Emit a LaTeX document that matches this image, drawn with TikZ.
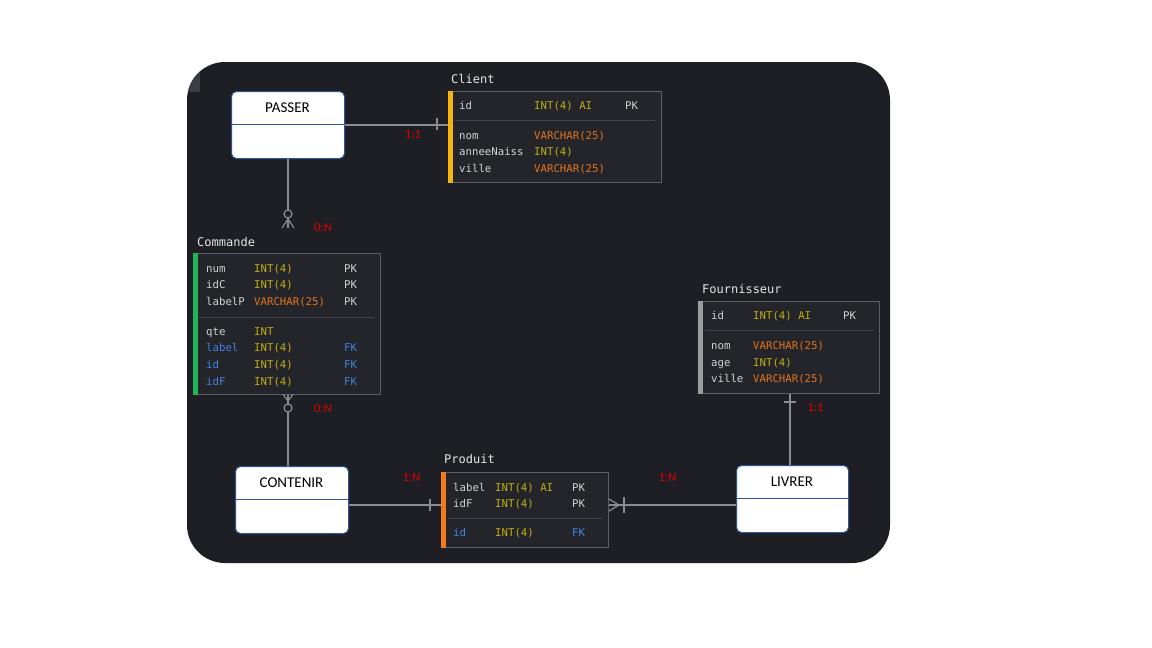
\documentclass[tikz,border=0pt]{standalone}
\usepackage{fontspec}
\setmainfont{Carlito}
\setmonofont{DejaVu Sans Mono}
\usetikzlibrary{calc}

\definecolor{canvas}{HTML}{1E1F24}
\definecolor{patch}{HTML}{3A3D45}
\definecolor{panel}{HTML}{23252B}
\definecolor{frame}{HTML}{5C5F66}
\definecolor{rule}{HTML}{42454C}
\definecolor{wire}{HTML}{8A8D93}
\definecolor{txt}{HTML}{D2D2D2}
\definecolor{title}{HTML}{E6E6E6}
\definecolor{typint}{HTML}{C4AE12}
\definecolor{typvar}{HTML}{E5731C}
\definecolor{fkblue}{HTML}{4282E6}
\definecolor{accY}{HTML}{F5B50E}
\definecolor{accG}{HTML}{22B45A}
\definecolor{accO}{HTML}{F47A1C}
\definecolor{accS}{HTML}{9C9C9C}
\definecolor{entborder}{HTML}{2F5597}
\definecolor{card}{HTML}{E00000}

% one row of a table: prefix, y of text centre, name colour, name, type colour, type, key colour, key
\newcommand\erow[8]{%
  \node[fld,text=#3] (#1-n) at (\xa,#2+4.5) {#4};
  \node[fld,text=#5] (#1-t) at (\xb,#2+4.5) {#6};
  \if\relax\detokenize{#8}\relax\else
    \node[fld,text=#7] (#1-k) at (\xc,#2+4.5) {#8};
  \fi}

\tikzset{
  tablebox/.style={draw=frame, fill=panel, line width=1pt, inner sep=0pt, anchor=north west},
  fld/.style={font=\ttfamily\fontsize{10.7}{12}\selectfont, inner sep=0pt, anchor=base west},
  tabtitle/.style={font=\ttfamily\fontsize{12}{14}\selectfont, text=title, inner sep=0pt, anchor=base west},
  entity/.style={draw=entborder, fill=white, line width=1pt, rounded corners=5pt, inner sep=0pt, anchor=north west},
  enttext/.style={font=\fontsize{15}{17}\selectfont, text=black, inner sep=0pt},
  cardtext/.style={font=\fontsize{12.5}{14}\selectfont, text=card, inner sep=0pt},
  wireline/.style={draw=wire, line width=1.2pt},
  sepline/.style={draw=rule, line width=1pt},
}

\begin{document}
\begin{tikzpicture}[x=1pt,y=-1pt]
\useasboundingbox (0,0) rectangle (1152,648);
\fill[white] (0,0) rectangle (1152,648);

% dark canvas
\fill[canvas, rounded corners=38pt] (187,62) rectangle (890,563);
\begin{scope}
  \clip[rounded corners=38pt] (187,62) rectangle (890,563);
  \fill[patch] (188,62) rectangle (200,92);
\end{scope}

% connectors (drawn first, boxes sit on top)
\coordinate (cmdfoot) at (288,228);
\coordinate (lnk) at (0,505);
\coordinate (vx) at (790,0);

% ---------- tables ----------
% Client
\node[tabtitle] (client-title) at (451,83) {Client};
\node[tablebox, minimum width=213pt, minimum height=91pt] (client) at (448,91) {};
\fill[accY] (client.north west) rectangle ([xshift=5pt]client.south west);
\draw[sepline] (455,120) -- (655,120);
\def\xa{459}\def\xb{534}\def\xc{625}
\erow{cl1}{105}{txt}{id}{typint}{INT(4) AI}{txt}{PK}
\erow{cl2}{135}{txt}{nom}{typvar}{VARCHAR(25)}{txt}{}
\erow{cl3}{151}{txt}{anneeNaiss}{typint}{INT(4)}{txt}{}
\erow{cl4}{168}{txt}{ville}{typvar}{VARCHAR(25)}{txt}{}

% Commande
\node[tabtitle] (commande-title) at (197,246) {Commande};
\node[tablebox, minimum width=187pt, minimum height=141pt] (commande) at (193,253) {};
\fill[accG] (commande.north west) rectangle ([xshift=5pt]commande.south west);
\draw[sepline] (199,317) -- (374,317);
\def\xa{206}\def\xb{254}\def\xc{344}
\erow{co1}{268}{txt}{num}{typint}{INT(4)}{txt}{PK}
\erow{co2}{284}{txt}{idC}{typint}{INT(4)}{txt}{PK}
\erow{co3}{301}{txt}{labelP}{typvar}{VARCHAR(25)}{txt}{PK}
\erow{co4}{331}{txt}{qte}{typint}{INT}{txt}{}
\erow{co5}{347}{fkblue}{label}{typint}{INT(4)}{fkblue}{FK}
\erow{co6}{364}{fkblue}{id}{typint}{INT(4)}{fkblue}{FK}
\erow{co7}{381}{fkblue}{idF}{typint}{INT(4)}{fkblue}{FK}

% Fournisseur
\node[tabtitle] (fournisseur-title) at (702,293) {Fournisseur};
\node[tablebox, minimum width=181pt, minimum height=92pt] (fournisseur) at (698,301) {};
\fill[accS] (fournisseur.north west) rectangle ([xshift=5pt]fournisseur.south west);
\draw[sepline] (705,330) -- (873,330);
\def\xa{711}\def\xb{753}\def\xc{843}
\erow{fo1}{315}{txt}{id}{typint}{INT(4) AI}{txt}{PK}
\erow{fo2}{345}{txt}{nom}{typvar}{VARCHAR(25)}{txt}{}
\erow{fo3}{362}{txt}{age}{typint}{INT(4)}{txt}{}
\erow{fo4}{378}{txt}{ville}{typvar}{VARCHAR(25)}{txt}{}

% Produit
\node[tabtitle] (produit-title) at (444,463) {Produit};
\node[tablebox, minimum width=167pt, minimum height=75pt] (produit) at (441,472) {};
\fill[accO] (produit.north west) rectangle ([xshift=5pt]produit.south west);
\draw[sepline] (448,518) -- (602,518);
\def\xa{453}\def\xb{495}\def\xc{572}
\erow{pr1}{487}{txt}{label}{typint}{INT(4) AI}{txt}{PK}
\erow{pr2}{503}{txt}{idF}{typint}{INT(4)}{txt}{PK}
\erow{pr3}{532}{fkblue}{id}{typint}{INT(4)}{fkblue}{FK}

% ---------- relationship boxes ----------
\node[entity, minimum width=113pt, minimum height=67pt] (passer) at (231,91) {};
\draw[entborder, line width=1pt] (passer.west |- 0,124) -- (passer.east |- 0,124);
\node[enttext] (passer-t) at (287.5,108) {PASSER};

\node[entity, minimum width=113pt, minimum height=67pt] (contenir) at (235,466) {};
\draw[entborder, line width=1pt] (contenir.west |- 0,499) -- (contenir.east |- 0,499);
\node[enttext] (contenir-t) at (291.5,483) {CONTENIR};

\node[entity, minimum width=112pt, minimum height=67pt] (livrer) at (736,465) {};
\draw[entborder, line width=1pt] (livrer.west |- 0,498) -- (livrer.east |- 0,498);
\node[enttext] (livrer-t) at (792,482) {LIVRER};

% ---------- links ----------
% PASSER -- Client
\draw[wireline] (passer.east) -- (passer.east -| client.west);
\draw[wireline] (437,118) -- (437,130);
\node[cardtext] (card1) at (413,135) {1:1};

% PASSER -- Commande
\draw[wireline] (passer.south -| cmdfoot) -- (cmdfoot);
\draw[wireline] (282,228) -- (288,219) -- (294,228);
\draw[wireline, fill=canvas] (288,214) circle (4pt);
\node[cardtext] (card2) at (323,227) {0:N};

% Commande -- CONTENIR
\draw[wireline] (commande.south -| cmdfoot) -- (contenir.north -| cmdfoot);
\draw[wireline] (283,394.5) -- (288,401) -- (293,394.5);
\draw[wireline, fill=canvas] (288,408) circle (4pt);
\node[cardtext] (card3) at (323,408) {0:N};

% CONTENIR -- Produit
\draw[wireline] (contenir.east |- lnk) -- (produit.west |- lnk);
\draw[wireline] (430,499) -- (430,511);
\node[cardtext] (card4) at (411.5,478) {1:N};

% Produit -- LIVRER
\draw[wireline] (produit.east |- lnk) -- (livrer.west |- lnk);
\draw[wireline] (609,499) -- (619,505) -- (609,511);
\draw[wireline] (624,497) -- (624,513);
\node[cardtext] (card5) at (667.5,478) {1:N};

% Fournisseur -- LIVRER
\draw[wireline] (fournisseur.south -| vx) -- (livrer.north -| vx);
\draw[wireline] (784,402) -- (796,402);
\node[cardtext] (card6) at (815.5,408) {1:1};
\end{tikzpicture}
\end{document}
